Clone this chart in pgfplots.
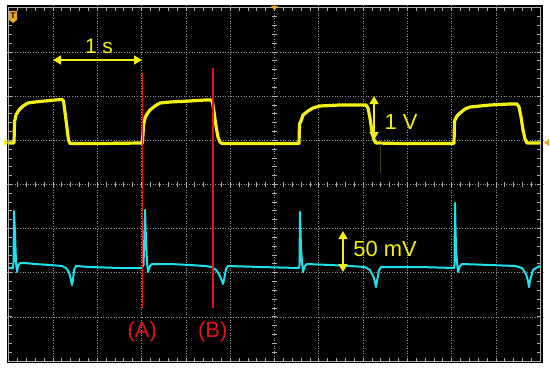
\documentclass[border=0pt]{standalone}
\usepackage{pgfplots}
\pgfplotsset{compat=1.18}
\usetikzlibrary{arrows.meta}
\usepackage{fontspec}
\setmainfont{Liberation Sans}

\definecolor{scopeyellow}{RGB}{245,240,20}
\definecolor{scopecyan}{RGB}{30,225,235}
\definecolor{cursorred}{RGB}{225,20,25}
\definecolor{gridgray}{RGB}{150,150,150}
\definecolor{framegray}{RGB}{175,175,175}
\definecolor{trigorange}{RGB}{235,165,30}

\begin{document}
\begin{tikzpicture}
% screen in pixel units, y running downwards
\begin{axis}[
    scale only axis,
    width=536bp, height=358bp,
    xmin=7, xmax=543, ymin=5, ymax=363,
    y dir=reverse,
    clip=false,
    axis background/.style={fill=black},
    axis line style={draw=none},
    xtick={53,97.3,141.6,185.9,230.2,274.5,318.8,363.1,407.4,451.7,496},
    ytick={52,96.1,140.3,184.4,228.6,272.7,316.9},
    xticklabels={}, yticklabels={},
    tick label style={overlay},
    major tick length=0pt,
    grid=major,
    grid style={gridgray, line width=0.8bp, dash pattern=on 1bp off 1.6bp},
]

% frame
\draw[framegray, line width=1bp] (axis cs:8.7,7.8) rectangle (axis cs:540.5,361);

% minor ticks on frame and centre lines
\pgfplotsforeachungrouped \i in {1,...,59}{%
  \pgfmathsetmacro\xx{8.7+8.86*\i}%
  \edef\tmp{\noexpand\draw[framegray, line width=0.8bp] (axis cs:\xx,7.8) -- (axis cs:\xx,11);
    \noexpand\draw[framegray, line width=0.8bp] (axis cs:\xx,358) -- (axis cs:\xx,361);
    \noexpand\draw[framegray, line width=0.8bp] (axis cs:\xx,182) -- (axis cs:\xx,187);}%
  \tmp
}
\pgfplotsforeachungrouped \i in {1,...,39}{%
  \pgfmathsetmacro\yy{7.8+8.83*\i}%
  \edef\tmp{\noexpand\draw[framegray, line width=0.8bp] (axis cs:8.7,\yy) -- (axis cs:12,\yy);
    \noexpand\draw[framegray, line width=0.8bp] (axis cs:537,\yy) -- (axis cs:540.5,\yy);
    \noexpand\draw[framegray, line width=0.8bp] (axis cs:272,\yy) -- (axis cs:277,\yy);}%
  \tmp
}

% channel 1 (yellow)
\addplot[scopeyellow, line width=3.2bp, line join=round] coordinates {
  (8.7,143) (14,143) (14.5,122) (16,115) (19,110) (23,106) (28,103) (35,102)
  (45,101) (55,100) (62,99.5) (63.5,101) (65,112) (67,128) (68.5,140) (70,143.5)
  (100,143.5) (142.5,143) (143.5,125) (145,118) (147,114) (150,110) (155,106)
  (160,103) (170,102) (190,101) (205,100) (211,100) (212.5,102) (214,112)
  (216,126) (218,137) (220,142) (222,143.5) (250,143.5) (299,143.5) (299.5,124)
  (301,121) (303,115) (308,111) (313,108) (320,106) (340,105) (360,105)
  (366,105) (368,108) (370,118) (372,132) (374,140) (376,143) (400,143.5)
  (454,143.5) (454.5,121) (457,116) (460,113) (465,109) (470,107) (490,105)
  (510,104) (517,104) (519,107) (521,117) (523,130) (525,139) (527,143)
  (540.5,143)
};

% channel 2 (cyan)
\addplot[scopecyan, line width=2bp, line join=round] coordinates {
  (8.7,268) (13,268) (13.5,262) (14,211) (15,232) (16,262) (17,272) (18,266)
  (20,263) (25,263) (35,264) (50,265) (62,266) (66,268) (69,272) (71,280)
  (72,285) (73,280) (74,270) (76,266) (90,267) (120,268) (142,268) (143.5,265)
  (144,250) (145,210) (146,240) (147,262) (148,272) (150,266) (152,264)
  (170,264) (190,265) (205,266) (212,267) (216,270) (219,274) (222,281)
  (223,284) (224,280) (226,269) (228,266) (260,267) (299,268) (299.5,265)
  (300,212) (301,248) (302,262) (303,272) (305,266) (307,264) (330,265)
  (350,266) (365,267) (370,270) (374,278) (376,287) (377,281) (379,270)
  (381,267) (420,267) (454,268) (454.5,265) (455,203) (456,250) (457,262)
  (458,272) (460,266) (462,264) (490,265) (515,266) (522,268) (526,274)
  (528,281) (529,287) (530,281) (533,270) (536,268) (540.5,266)
};

% cursors
\draw[cursorred, line width=1.6bp] (axis cs:142.3,73) -- (axis cs:142.3,308);
\draw[cursorred, line width=1.6bp] (axis cs:212.7,68) -- (axis cs:212.7,308);
\node[cursorred, font=\fontsize{22}{24}\selectfont, inner sep=0pt] at (axis cs:142.3,332) {(A)};
\node[cursorred, font=\fontsize{22}{24}\selectfont, inner sep=0pt] at (axis cs:212.7,332) {(B)};

% annotations
\draw[scopeyellow, line width=1.5bp, {Triangle[length=8bp,width=9bp]}-{Triangle[length=8bp,width=9bp]}]
  (axis cs:53,60) -- (axis cs:142,60);
\node[scopeyellow, font=\fontsize{21}{24}\selectfont, inner sep=0pt] at (axis cs:99,46) {1 s};
\draw[scopeyellow, line width=1.5bp, {Triangle[length=8bp,width=9bp]}-{Triangle[length=8bp,width=9bp]}]
  (axis cs:374,96) -- (axis cs:374,140);
\draw[black!40!scopeyellow!45!black, line width=1bp] (axis cs:380,144) -- (axis cs:380,173);
\node[scopeyellow, font=\fontsize{22}{24}\selectfont, inner sep=0pt] at (axis cs:401,122) {1 V};
\draw[scopeyellow, line width=1.5bp, {Triangle[length=8bp,width=9bp]}-{Triangle[length=8bp,width=9bp]}]
  (axis cs:343,231) -- (axis cs:343,272);
\node[scopeyellow, font=\fontsize{22}{24}\selectfont, inner sep=0pt] at (axis cs:385,249) {50 mV};

% scope markers
\fill[trigorange] (axis cs:9,11) -- (axis cs:17,11) -- (axis cs:17,20) -- (axis cs:13,23) -- (axis cs:9,20) -- cycle;
\node[black, font=\bfseries\fontsize{8}{8}\selectfont, inner sep=0pt] at (axis cs:13,16) {T};
\fill[trigorange] (axis cs:271,6) -- (axis cs:278,6) -- (axis cs:274.5,10.5) -- cycle;
\fill[trigorange] (axis cs:549,139) -- (axis cs:549,146) -- (axis cs:544,142.5) -- cycle;
\fill[scopeyellow] (axis cs:4,139) -- (axis cs:4,146) -- (axis cs:8.5,142.5) -- cycle;

\coordinate (bbsw) at (axis cs:0,368);
\coordinate (bbne) at (axis cs:550,0);
\end{axis}
\pgfresetboundingbox
\useasboundingbox (bbsw) rectangle (bbne);
\end{tikzpicture}
\end{document}
